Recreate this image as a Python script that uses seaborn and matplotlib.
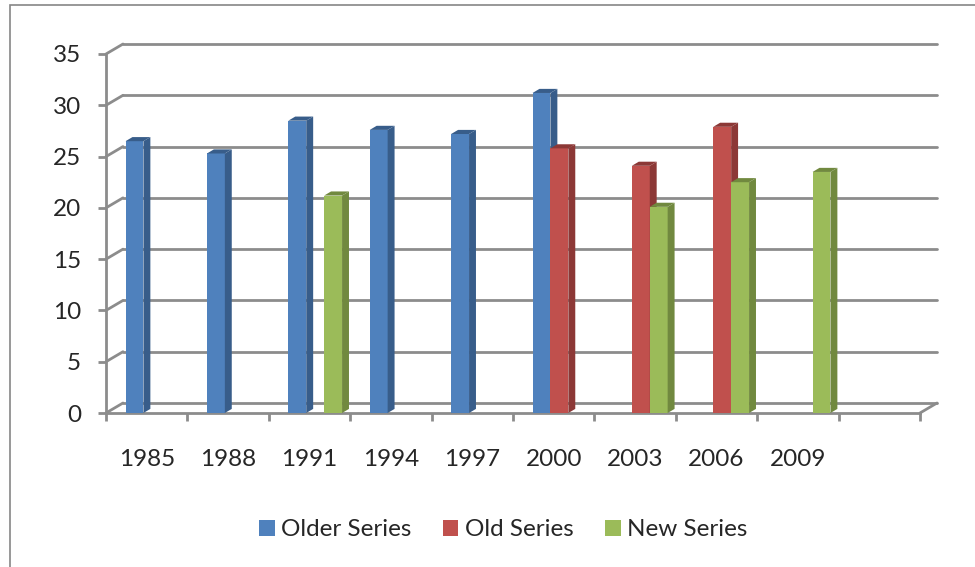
import numpy as np
import pandas as pd
import seaborn as sns
import matplotlib.pyplot as plt
from matplotlib.patches import Polygon, Rectangle, Patch

# data
years = ["1985", "1988", "1991", "1994", "1997", "2000", "2003", "2006", "2009"]
older = [26.5, 25.3, 28.5, 27.6, 27.2, 31.2, None, None, None]
old = [None, None, None, None, None, 25.8, 24.1, 27.9, None]
new = [None, None, 21.2, None, None, None, 20.1, 22.5, 23.5]
series_names = ["Older Series", "Old Series", "New Series"]
colors = ["#4F81BD", "#C0504D", "#9BBB59"]
side_colors = ["#385D8A", "#8C3836", "#71893F"]
yticks = [0, 5, 10, 15, 20, 25, 30, 35]

rows = []
for name, vals in zip(series_names, [older, old, new]):
    for y, v in zip(years, vals):
        if v is not None:
            rows.append({"year": y, "series": name, "value": v})
df = pd.DataFrame(rows)

sns.set_style("white")
plt.rcParams["font.family"] = ["Lato", "DejaVu Sans"]

fig = plt.figure(figsize=[9.75, 5.67], dpi=100)
ax = fig.add_axes([106 / 975, (567 - 413) / 567, 814 / 975, (413 - 54) / 567])

order = years + [" "]
sns.barplot(data=df, x="year", y="value", hue="series", order=order,
            hue_order=series_names, palette=colors, width=0.66,
            saturation=1, legend=False, ax=ax)

ax.set_xlim(-0.5, len(order) - 0.5)
ax.set_ylim(0, 35)

# fake 3D look: back wall gridlines shifted up/right
grid_c = "#8c8c8c"
dx = 17 / 814          # axes fraction
dy = 10 / (359 / 35)   # data units
tr = ax.get_yaxis_transform()
for v in yticks:
    ax.plot([dx, 1 + dx], [v + dy, v + dy], transform=tr, color=grid_c,
            lw=2, clip_on=False, zorder=1)
    ax.plot([0, dx], [v, v + dy], transform=tr, color=grid_c,
            lw=2, clip_on=False, zorder=1)
ax.plot([1, 1 + dx], [0, dy], transform=tr, color=grid_c, lw=2,
        clip_on=False, zorder=1)

# side and top faces of the bars, later series sit in front
bdx = 0.085
bdy = 0.4
shift = 0.07
hex_colors = [c.upper() for c in colors]
for p in list(ax.patches):
    h = p.get_height()
    if not h or np.isnan(h):
        continue
    fc = p.get_facecolor()
    hexc = "#%02X%02X%02X" % tuple(int(round(c * 255)) for c in fc[:3])
    i = hex_colors.index(hexc) if hexc in hex_colors else 0
    z = 3 + i * 0.1
    p.set_x(p.get_x() + shift)
    x0 = p.get_x()
    w = p.get_width()
    p.set_edgecolor("none")
    p.set_zorder(z)
    side = Polygon([(x0 + w, 0), (x0 + w + bdx, bdy), (x0 + w + bdx, h + bdy), (x0 + w, h)],
                   closed=True, facecolor=side_colors[i], edgecolor="none", zorder=z, clip_on=False)
    top = Polygon([(x0, h), (x0 + w, h), (x0 + w + bdx, h + bdy), (x0 + bdx, h + bdy)],
                  closed=True, facecolor=side_colors[i], edgecolor="none", zorder=z, clip_on=False)
    ax.add_patch(side)
    ax.add_patch(top)

# axes styling
for s in ["top", "right"]:
    ax.spines[s].set_visible(False)
for s in ["left", "bottom"]:
    ax.spines[s].set_color(grid_c)
    ax.spines[s].set_linewidth(2)

ax.set_yticks(yticks)
ax.tick_params(axis="y", length=6, width=2, color=grid_c, pad=12, labelsize=17.5, left=True)
ax.set_xticks(range(len(order)))
ax.set_xticklabels(order)
ax.set_xticks(np.arange(-0.5, len(order)), minor=True)
ax.tick_params(axis="x", which="major", length=0, pad=26, labelsize=17.5)
ax.tick_params(axis="x", which="minor", length=6, width=2, color=grid_c, bottom=True)
ax.set_xlabel("")
ax.set_ylabel("")

# legend
handles = [Patch(facecolor=c, edgecolor="none") for c in colors]
fig.legend(handles, series_names, loc="center", bbox_to_anchor=(503 / 975, 1 - 530 / 567),
           ncol=3, frameon=False, fontsize=17.5, handlelength=0.65, handleheight=0.65,
           handletextpad=0.25, columnspacing=1.3)

# outer chart border
fig.patches.append(Rectangle((10 / 975, -0.1), 1.2, 1.1 - 5 / 567, transform=fig.transFigure,
                             fill=False, edgecolor="#868686", lw=1.2))

fig.savefig("out.png", dpi=100)
